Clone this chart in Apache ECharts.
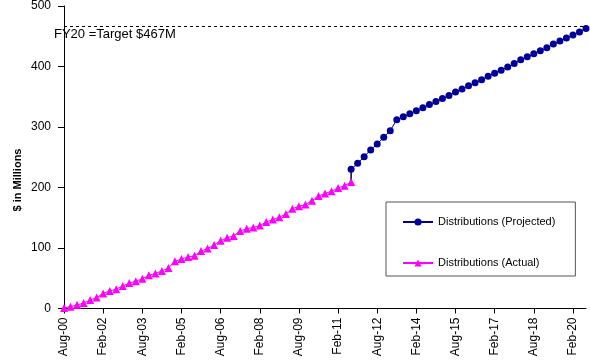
<!DOCTYPE html>
<html>
<head>
<meta charset="utf-8">
<script src="https://cdn.jsdelivr.net/npm/echarts@6/dist/echarts.min.js"></script>
<style>html,body{margin:0;padding:0;background:#fff;}#c{width:590px;height:360px;}</style>
</head>
<body>
<div id="c"></div>
<script>
var categories = [
 "Aug-00","Nov-00","Feb-01","May-01","Aug-01","Nov-01","Feb-02","May-02","Aug-02","Nov-02",
 "Feb-03","May-03","Aug-03","Nov-03","Feb-04","May-04","Aug-04","Nov-04","Feb-05","May-05",
 "Aug-05","Nov-05","Feb-06","May-06","Aug-06","Nov-06","Feb-07","May-07","Aug-07","Nov-07",
 "Feb-08","May-08","Aug-08","Nov-08","Feb-09","May-09","Aug-09","Nov-09","Feb-10","May-10",
 "Aug-10","Nov-10","Feb-11","May-11","Aug-11","Nov-11","Feb-12","May-12","Aug-12","Nov-12",
 "Feb-13","May-13","Aug-13","Nov-13","Feb-14","May-14","Aug-14","Nov-14","Feb-15","May-15",
 "Aug-15","Nov-15","Feb-16","May-16","Aug-16","Nov-16","Feb-17","May-17","Aug-17","Nov-17",
 "Feb-18","May-18","Aug-18","Nov-18","Feb-19","May-19","Aug-19","Nov-19","Feb-20","May-20",
 "Aug-20"
];
// Actual distributions, Aug-00 .. Aug-11
var actualValues = [1,3,6,9,14,18,25,29,32,37,42,45,49,55,58,62,67,78,82,85,
                    87,95,99,105,112,117,120,128,132,134,137,143,147,151,156,165,169,172,178,186,
                    190,194,199,203,209];
var actualStart = 0;
// Projected distributions, Aug-11 .. Aug-20
var projectedValues = [230,240,251,262,272,283,294,312,317,322,327,332,337,342,347,352,358,363,368,373,
                       378,384,389,394,399,405,411,416,421,426,431,437,442,447,452,457,463];
var projectedStart = 44;
var targetValue = 467;
var targetLabel = "FY20 =Target $467M";
var yAxisTitle = "$ in Millions";
var yTicks = {min: 0, max: 500, interval: 100};

function pad(start, vals) {
  var out = [];
  for (var i = 0; i < categories.length; i++) {
    var k = i - start;
    out.push(k >= 0 && k < vals.length ? vals[k] : null);
  }
  return out;
}
var connector = [[projectedStart, actualValues[actualValues.length - 1]], [projectedStart, projectedValues[0]]];

var chart = echarts.init(document.getElementById('c'), null, {renderer: 'canvas'});
var font = 'Liberation Sans, Arial, sans-serif';
chart.setOption({
  animation: false,
  backgroundColor: '#fff',
  textStyle: {fontFamily: font},
  grid: {left: 64, right: 4, top: 4.5, bottom: 51.5, containLabel: false},
  legend: {
    left: 386, top: 202, orient: 'vertical',
    padding: [13, 20, 6, 16],
    itemGap: 27, itemWidth: 30, itemHeight: 9,
    borderColor: '#555', borderWidth: 1,
    textStyle: {fontSize: 11, color: '#000', fontFamily: font, lineHeight: 14},
    data: ['Distributions (Projected)', 'Distributions (Actual)']
  },
  xAxis: {
    type: 'category', data: categories, boundaryGap: false,
    axisLine: {lineStyle: {color: '#000', width: 1}},
    axisTick: {show: true, interval: 5, length: 5, lineStyle: {color: '#000'}},
    axisLabel: {interval: 5, rotate: 90, margin: 9, fontSize: 12, color: '#000', fontFamily: font},
    splitLine: {show: false}
  },
  yAxis: {
    type: 'value', min: yTicks.min, max: yTicks.max, interval: yTicks.interval,
    axisLine: {show: true, lineStyle: {color: '#000', width: 1}},
    axisTick: {show: true, length: 6, lineStyle: {color: '#000'}},
    axisLabel: {margin: 13, fontSize: 12, color: '#000', fontFamily: font},
    splitLine: {show: false}
  },
  graphic: [{
    type: 'text', left: 54, top: 28,
    style: {text: targetLabel, fontSize: 13, fill: '#000', fontFamily: font}
  }, {
    type: 'text', x: 18, y: 180, rotation: Math.PI / 2,
    style: {text: yAxisTitle, fontSize: 11, fontWeight: 'bold', fill: '#000', fontFamily: font,
            align: 'center', verticalAlign: 'middle'}
  }],
  series: [
    {
      name: 'Distributions (Projected)', type: 'line',
      data: pad(projectedStart, projectedValues),
      symbol: 'circle', symbolSize: 7, showAllSymbol: true,
      lineStyle: {color: '#000080', width: 1},
      itemStyle: {color: '#000099'},
      z: 3,
      markLine: {
        silent: true, symbol: ['none', 'none'],
        label: {show: false},
        lineStyle: {color: '#000', type: [3, 3], width: 1},
        data: [{yAxis: targetValue}]
      }
    },
    {
      name: 'Distributions (Actual)', type: 'line',
      data: pad(actualStart, actualValues),
      symbol: 'triangle', symbolSize: 8, showAllSymbol: true,
      lineStyle: {color: '#ff00ff', width: 1},
      itemStyle: {color: '#ff00ff'},
      z: 2
    },
    {
      name: 'connector', type: 'line', data: connector,
      symbol: 'none', silent: true,
      lineStyle: {color: '#000033', width: 1.5}, z: 1
    }
  ]
});
</script>
</body>
</html>
